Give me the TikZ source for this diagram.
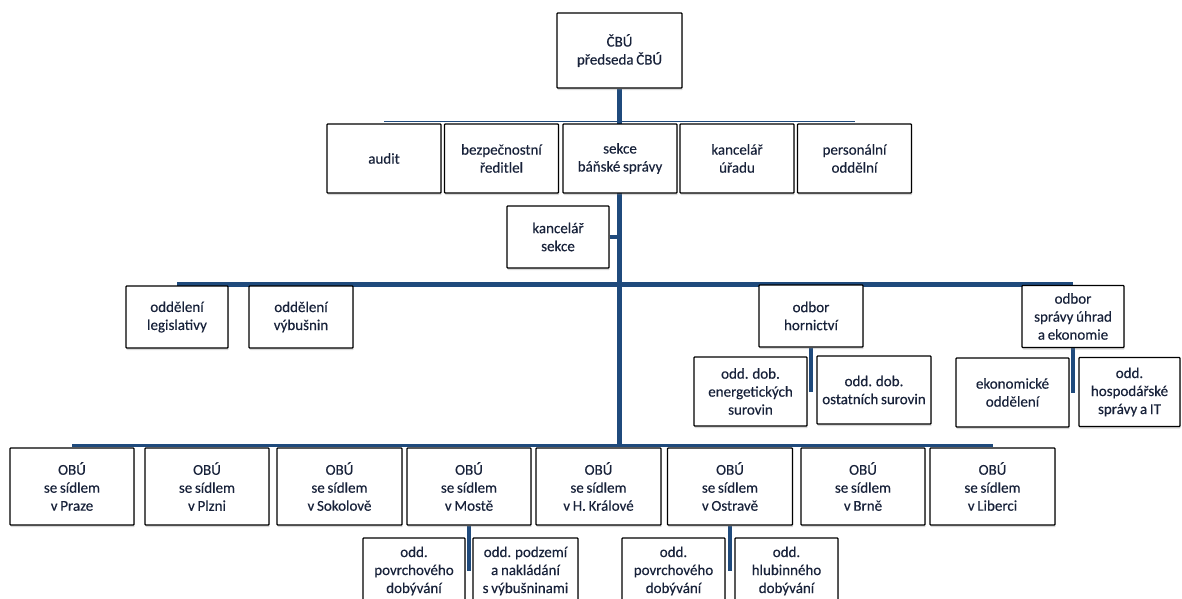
\documentclass[tikz,border=0pt]{standalone}
\usepackage{fontspec}
\setmainfont{Carlito}[WordSpace=0.8, FakeBold=0.3]
\usepackage{tikz}
\usepackage{xcolor}
\usetikzlibrary{shadows,backgrounds}
\definecolor{linkblue}{HTML}{1F4A7C}
\definecolor{txtnavy}{HTML}{18223A}

\begin{document}
\begin{tikzpicture}[x=1pt, y=-1pt,
    box/.style={draw=black, line width=1.3pt, fill=white, rounded corners=0.8pt, align=center, inner sep=1pt,
        text=txtnavy, font=\fontsize{15}{18}\selectfont,
        drop shadow={shadow xshift=0.6pt, shadow yshift=-2pt, opacity=0.3}},
    rowbox/.style={box, minimum width=114pt, minimum height=69pt},
    smallbox/.style={box, minimum width=103pt, minimum height=62pt},
    obubox/.style={box, minimum width=124pt, minimum height=77pt},
    subbox/.style={box, minimum width=103pt, minimum height=66pt},
    bus/.style={draw=linkblue, line width=4.5pt},
    thinbus/.style={draw=linkblue, line width=1.2pt}]
                \useasboundingbox (0, 0) rectangle (1182, 598);
                \clip (0, 0) rectangle (1182, 598);

                \node[box, minimum width=125pt, minimum height=75pt] (cbu) at (619.5, 50.5) {ČBÚ\\předseda ČBÚ};

                \node[rowbox] (audit) at (384, 158.5) {audit};
                \node[rowbox] (bezp) at (501.5, 158.5) {bezpečnostní\\ředitlel};
                \node[rowbox] (sekce) at (620, 158.5) {sekce\\báňské správy};
                \node[rowbox] (kancurad) at (737, 158.5) {kancelář\\úřadu};
                \node[rowbox] (person) at (854.5, 158.5) {personální\\oddělní};

                \node[smallbox, minimum width=102pt] (kancsekce) at (558, 237) {kancelář\\sekce};

                \node[smallbox, minimum width=102pt] (legisl) at (177, 317) {oddělení\\legislativy};
                \node[smallbox, minimum width=104pt] (vybus) at (301, 317) {oddělení\\výbušnin};
                \node[smallbox, minimum width=104pt] (hornictvi) at (811, 316) {odbor\\hornictví};
                \node[smallbox, minimum width=102pt] (spravy) at (1073, 316.5) {odbor\\správy úhrad\\a ekonomie};

                \node[rowbox, minimum width=113pt] (energ) at (750.5, 391.5) {odd. dob.\\energetických\\surovin};
                \node[rowbox, minimum height=68pt] (ostat) at (874, 390) {odd. dob.\\ostatních surovin};
                \node[rowbox, minimum width=113pt] (ekon) at (1012.5, 392.5) {ekonomické\\oddělení};
                \node[rowbox, minimum width=101pt] (hosp) at (1129.5, 392) {odd.\\hospodářské\\správy a IT};

                \node[obubox] (praze) at (72, 486.5) {OBÚ\\se sídlem\\v Praze};
                \node[obubox] (plzni) at (207, 486.5) {OBÚ\\se sídlem\\v Plzni};
                \node[obubox, minimum width=125pt] (sokolov) at (339.5, 486.5) {OBÚ\\se sídlem\\v Sokolově};
                \node[obubox] (moste) at (469, 486.5) {OBÚ\\se sídlem\\v Mostě};
                \node[obubox, minimum width=125pt] (hkralove) at (598.5, 486.5) {OBÚ\\se sídlem\\v H. Králové};
                \node[obubox, minimum width=125pt] (ostrave) at (730, 486.5) {OBÚ\\se sídlem\\v Ostravě};
                \node[obubox] (brne) at (863, 486.5) {OBÚ\\se sídlem\\v Brně};
                \node[obubox, minimum width=125pt] (liberci) at (992.5, 486.5) {OBÚ\\se sídlem\\v Liberci};

                \node[subbox, minimum width=102pt] (mpovrch) at (414, 571) {odd.\\povrchového\\dobývání};
                \node[subbox, minimum width=105pt] (mpodzem) at (525.5, 571) {odd. podzemí\\a nakládání\\s výbušninami};
                \node[subbox] (opovrch) at (673.5, 571) {odd.\\povrchového\\dobývání};
                \node[subbox] (ohlubin) at (786.5, 571) {odd.\\hlubinného\\dobývání};

                \begin{scope}[on background layer]
                \draw[thinbus]
                ([yshift=2pt]audit.north) -- ([yshift=2pt]audit.north -| person);
                \draw[bus]
                (cbu) -- (cbu |- praze.north)
                ([yshift=1pt]legisl.north) -- ([yshift=1pt]legisl.north -| spravy)
                (kancsekce.east) -- (kancsekce.east -| sekce)
                (hornictvi) -- (hornictvi |- energ)
                (spravy) -- (spravy |- ekon)
                (moste) -- (moste |- mpovrch)
                (ostrave) -- (ostrave |- opovrch);
                \draw[bus, line width=3pt]
                ([yshift=2pt]praze.north) -- ([yshift=2pt]praze.north -| liberci);
                \end{scope}
            \end{tikzpicture}
\end{document}
